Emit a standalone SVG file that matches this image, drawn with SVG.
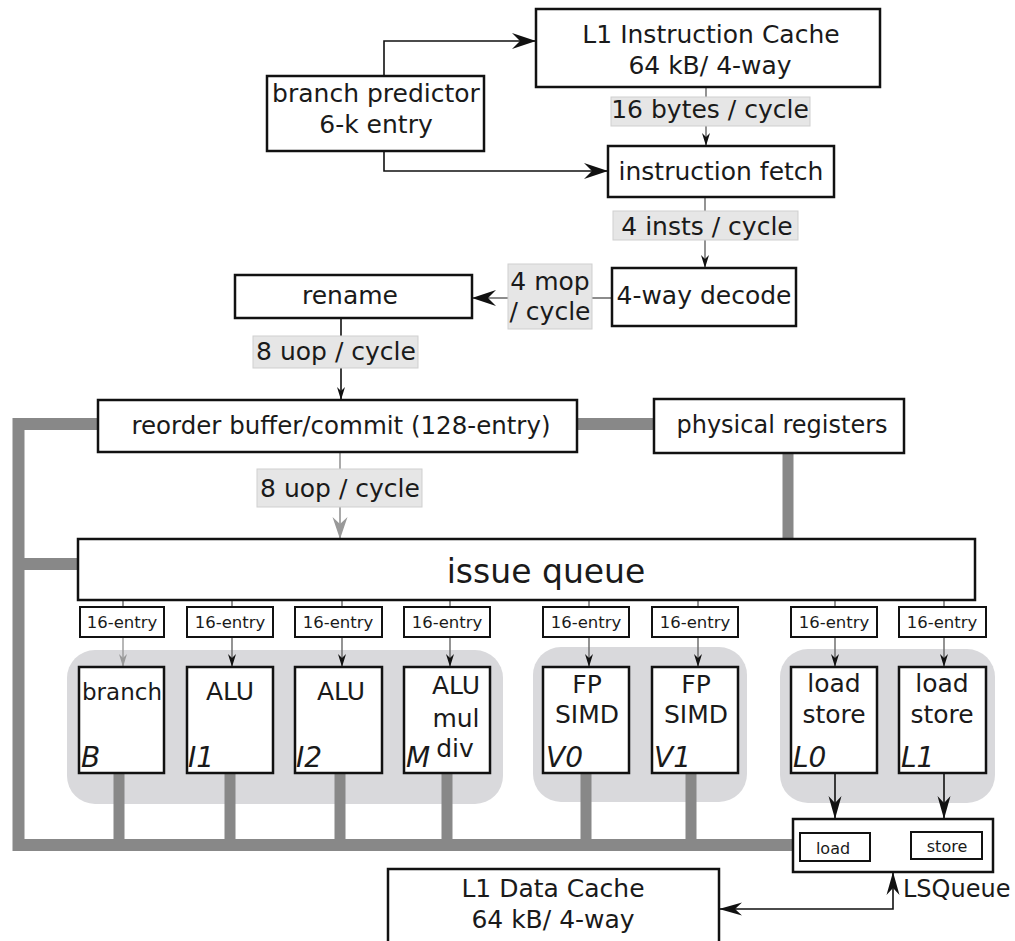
<svg xmlns="http://www.w3.org/2000/svg" width="1015" height="941" viewBox="0 0 1015 941">
  <defs>
    <style>
      text { font-family: "DejaVu Sans", "Liberation Sans", sans-serif; fill: #1a1a1a; }
      .box { fill: #ffffff; stroke: #111111; stroke-width: 2.5; }
      .sbox { fill: #ffffff; stroke: #111111; stroke-width: 2; }
      .grp { fill: #d9d9dc; stroke: none; }
      .lbl { fill: #e6e6e6; stroke: #cfcfcf; stroke-width: 1; }
      .t25 { font-size: 25px; text-anchor: middle; }
      .t24 { font-size: 24px; text-anchor: middle; }
      .t16 { font-size: 16.5px; text-anchor: middle; }
      .t15 { font-size: 16px; text-anchor: middle; }
      .it { font-size: 28px; font-style: italic; }
      .bus { fill: none; stroke: #888888; stroke-width: 12; }
      .stub { fill: none; stroke: #888888; stroke-width: 11; }
      .wire { fill: none; stroke: #111111; stroke-width: 1.6; }
      .gwire { fill: none; stroke: #666666; stroke-width: 1.4; }
    </style>
    <marker id="big" viewBox="-26 -9 27 18" refX="0" refY="0" markerWidth="27" markerHeight="18" orient="auto-start-reverse" markerUnits="userSpaceOnUse">
      <path d="M0,0 L-24,-8 L-16,0 L-24,8 Z" fill="#111111"/>
    </marker>
    <marker id="mid" viewBox="-26 -8 27 16" refX="0" refY="0" markerWidth="27" markerHeight="16" orient="auto-start-reverse" markerUnits="userSpaceOnUse">
      <path d="M0,0 L-23,-6.5 L-16,0 L-23,6.5 Z" fill="#111111"/>
    </marker>
    <marker id="small" viewBox="-14 -5 15 10" refX="0" refY="0" markerWidth="15" markerHeight="10" orient="auto" markerUnits="userSpaceOnUse">
      <path d="M0,0 L-13,-4 L-9,0 L-13,4 Z" fill="#111111"/>
    </marker>
    <marker id="smallg" viewBox="-14 -5 15 10" refX="0" refY="0" markerWidth="15" markerHeight="10" orient="auto" markerUnits="userSpaceOnUse">
      <path d="M0,0 L-13,-4 L-9,0 L-13,4 Z" fill="#999999"/>
    </marker>
    <marker id="bigg" viewBox="-24 -9 25 18" refX="0" refY="0" markerWidth="25" markerHeight="18" orient="auto" markerUnits="userSpaceOnUse">
      <path d="M0,0 L-22,-7.5 L-15,0 L-22,7.5 Z" fill="#999999"/>
    </marker>
  </defs>

  <rect width="1015" height="941" fill="#ffffff"/>

  <!-- execution cluster backgrounds -->
  <rect class="grp" x="67" y="650" width="436" height="154" rx="28"/>
  <rect class="grp" x="533" y="647" width="214" height="155" rx="28"/>
  <rect class="grp" x="780" y="649" width="215" height="154" rx="28"/>

  <!-- connectors -->
  <g id="connectors">
    <!-- result / commit bus -->
    <path class="bus" d="M98,424 H18.5 V845 H793"/>
    <path class="bus" d="M18.5,564 H78"/>
    <path class="bus" d="M577,424 H654"/>
    <path class="stub" d="M788,453 V539"/>
    <path class="stub" d="M119,773 V845 M230,773 V845 M340,773 V845 M447,773 V845 M586,773 V845 M691,773 V845"/>

    <!-- front end -->
    <path class="wire" d="M384,76 V41 H536" marker-end="url(#big)"/>
    <path class="wire" d="M384,151 V171 H608" marker-end="url(#big)"/>
    <path class="gwire" d="M706,87 V146" marker-end="url(#small)"/>
    <path class="gwire" d="M705,197 V268" marker-end="url(#small)"/>
    <path class="gwire" d="M612,298 H472" marker-end="url(#big)"/>
    <path class="wire" d="M341,318 V400" marker-end="url(#small)"/>
    <path d="M340,452 V539" fill="none" stroke="#aaaaaa" stroke-width="2" marker-end="url(#bigg)"/>

    <!-- issue queue to reservation stations -->
    <path class="gwire" d="M123,600 V607 M232,600 V607 M342,600 V607 M450,600 V607 M589,600 V607 M698,600 V607 M835,600 V607 M944,600 V607"/>
    <path d="M123,637 V667" fill="none" stroke="#999999" stroke-width="1.4" marker-end="url(#smallg)"/>
    <path class="gwire" d="M232,637 V667" marker-end="url(#small)"/>
    <path class="gwire" d="M342,637 V667" marker-end="url(#small)"/>
    <path class="gwire" d="M450,637 V667" marker-end="url(#small)"/>
    <path class="gwire" d="M589,637 V667" marker-end="url(#small)"/>
    <path class="gwire" d="M698,637 V667" marker-end="url(#small)"/>
    <path class="gwire" d="M835,637 V667" marker-end="url(#small)"/>
    <path class="gwire" d="M944,637 V667" marker-end="url(#small)"/>

    <!-- load/store units to LSQueue -->
    <path class="wire" d="M835,773 V819" marker-end="url(#mid)"/>
    <path class="wire" d="M944,773 V819" marker-end="url(#mid)"/>

    <!-- LSQueue to data cache -->
    <path class="wire" d="M719,909 H893 V872" marker-start="url(#mid)" marker-end="url(#mid)"/>
  </g>

  <!-- bandwidth labels -->
  <g id="labels">
    <rect class="lbl" x="611" y="97" width="199" height="29"/>
    <text class="t25" x="710" y="118">16 bytes / cycle</text>
    <rect class="lbl" x="613" y="211" width="185" height="29"/>
    <text class="t25" x="707" y="235">4 insts / cycle</text>
    <rect class="lbl" x="508" y="264" width="84" height="65"/>
    <text class="t25" x="550" y="290">4 mop</text>
    <text class="t25" x="550" y="320">/ cycle</text>
    <rect class="lbl" x="253" y="336" width="165" height="32"/>
    <text class="t25" x="336" y="360">8 uop / cycle</text>
    <rect class="lbl" x="257" y="469" width="165" height="38"/>
    <text class="t25" x="340" y="497">8 uop / cycle</text>
  </g>

  <g id="l1-icache">
    <rect class="box" x="536" y="9" width="344" height="78"/>
    <text class="t25" x="711" y="43">L1 Instruction Cache</text>
    <text class="t25" x="710" y="74">64 kB/ 4-way</text>
  </g>

  <g id="branch-predictor">
    <rect class="box" x="267" y="76" width="217" height="75"/>
    <text class="t25" x="376" y="102">branch predictor</text>
    <text class="t25" x="376" y="133">6-k entry</text>
  </g>

  <g id="instruction-fetch">
    <rect class="box" x="608" y="146" width="226" height="51"/>
    <text class="t25" x="721" y="180">instruction fetch</text>
  </g>

  <g id="decode">
    <rect class="box" x="612" y="268" width="184" height="58"/>
    <text class="t25" x="704" y="304">4-way decode</text>
  </g>

  <g id="rename">
    <rect class="box" x="235" y="275" width="237" height="43"/>
    <text class="t25" x="350" y="304">rename</text>
  </g>

  <g id="rob">
    <rect class="box" x="98" y="400" width="479" height="52"/>
    <text x="341" y="434" font-size="24.5px" text-anchor="middle">reorder buffer/commit (128-entry)</text>
  </g>

  <g id="physical-registers">
    <rect class="box" x="654" y="399" width="250" height="54"/>
    <text class="t24" x="782" y="433">physical registers</text>
  </g>

  <g id="issue-queue">
    <rect class="box" x="78" y="539" width="897" height="61"/>
    <text x="546" y="583" font-size="33px" text-anchor="middle">issue queue</text>
  </g>

  <!-- per-port 16-entry schedulers -->
  <g id="rs-b"><rect class="sbox" x="80" y="607" width="84" height="30"/><text class="t16" x="122" y="628">16-entry</text></g>
  <g id="rs-i1"><rect class="sbox" x="187" y="607" width="86" height="30"/><text class="t16" x="230" y="628">16-entry</text></g>
  <g id="rs-i2"><rect class="sbox" x="295" y="607" width="87" height="30"/><text class="t16" x="338" y="628">16-entry</text></g>
  <g id="rs-m"><rect class="sbox" x="404" y="607" width="86" height="30"/><text class="t16" x="447" y="628">16-entry</text></g>
  <g id="rs-v0"><rect class="sbox" x="543" y="607" width="86" height="30"/><text class="t16" x="586" y="628">16-entry</text></g>
  <g id="rs-v1"><rect class="sbox" x="652" y="607" width="86" height="30"/><text class="t16" x="695" y="628">16-entry</text></g>
  <g id="rs-l0"><rect class="sbox" x="791" y="607" width="86" height="30"/><text class="t16" x="834" y="628">16-entry</text></g>
  <g id="rs-l1"><rect class="sbox" x="899" y="607" width="87" height="30"/><text class="t16" x="942" y="628">16-entry</text></g>

  <!-- execution units -->
  <g id="unit-b">
    <rect class="box" x="79" y="667" width="85" height="106"/>
    <text x="122" y="700" font-size="23px" text-anchor="middle">branch</text>
    <text class="it" x="81" y="767">B</text>
  </g>
  <g id="unit-i1">
    <rect class="box" x="187" y="667" width="86" height="106"/>
    <text class="t25" x="230" y="700">ALU</text>
    <text class="it" x="188" y="767">I1</text>
  </g>
  <g id="unit-i2">
    <rect class="box" x="295" y="667" width="87" height="106"/>
    <text class="t25" x="341" y="700">ALU</text>
    <text class="it" x="296" y="767">I2</text>
  </g>
  <g id="unit-m">
    <rect class="box" x="404" y="667" width="86" height="106"/>
    <text class="t25" x="456" y="694">ALU</text>
    <text class="t25" x="456" y="727">mul</text>
    <text class="t25" x="455" y="757">div</text>
    <text class="it" x="406" y="767">M</text>
  </g>
  <g id="unit-v0">
    <rect class="box" x="543" y="667" width="86" height="106"/>
    <text class="t25" x="587" y="693">FP</text>
    <text class="t25" x="587" y="723">SIMD</text>
    <text class="it" x="546" y="767">V0</text>
  </g>
  <g id="unit-v1">
    <rect class="box" x="652" y="667" width="86" height="106"/>
    <text class="t25" x="696" y="693">FP</text>
    <text class="t25" x="696" y="723">SIMD</text>
    <text class="it" x="654" y="767">V1</text>
  </g>
  <g id="unit-l0">
    <rect class="box" x="791" y="667" width="86" height="106"/>
    <text class="t25" x="834" y="692">load</text>
    <text class="t25" x="834" y="723">store</text>
    <text class="it" x="793" y="767">L0</text>
  </g>
  <g id="unit-l1">
    <rect class="box" x="899" y="667" width="87" height="106"/>
    <text class="t25" x="942" y="692">load</text>
    <text class="t25" x="942" y="723">store</text>
    <text class="it" x="901" y="767">L1</text>
  </g>

  <g id="lsqueue">
    <rect class="box" x="793" y="819" width="200" height="53"/>
    <rect class="sbox" x="800" y="833" width="70" height="28"/>
    <text class="t15" x="833" y="854">load</text>
    <rect class="sbox" x="911" y="832" width="71" height="27"/>
    <text class="t15" x="947" y="852">store</text>
    <text x="903" y="897" font-size="24px">LSQueue</text>
  </g>

  <g id="l1-dcache">
    <rect class="box" x="388" y="869" width="331" height="90"/>
    <text class="t25" x="553" y="897">L1 Data Cache</text>
    <text class="t25" x="553" y="928">64 kB/ 4-way</text>
  </g>
</svg>
